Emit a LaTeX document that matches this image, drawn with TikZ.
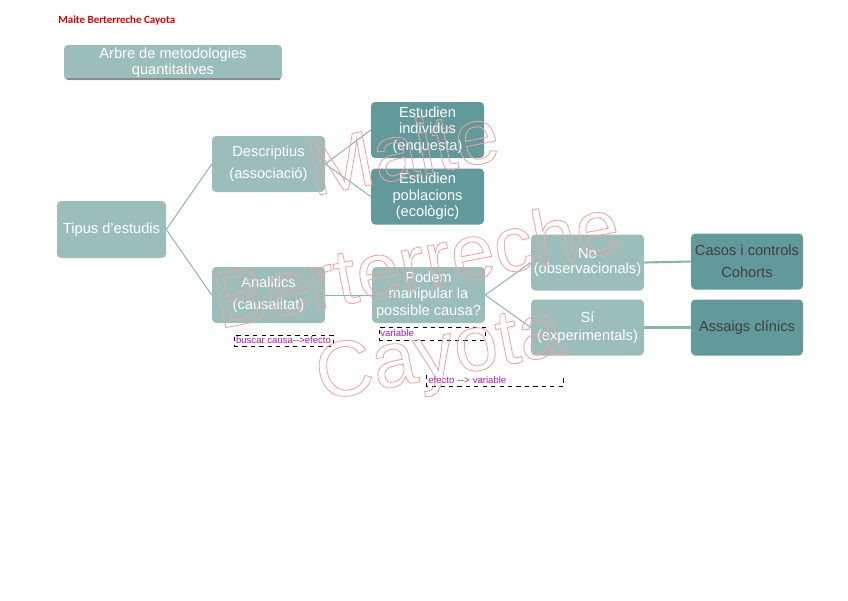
\documentclass[tikz,border=0pt]{standalone}
\usepackage{fontspec}
\setmainfont{Liberation Sans}
\newfontfamily\signfont{Carlito}
\usetikzlibrary{positioning}

\definecolor{lightteal}{HTML}{9CBEBB}
\definecolor{darkteal}{HTML}{62999A}
\definecolor{linkteal}{HTML}{8DB3B0}
\definecolor{notepink}{HTML}{A81EA8}
\definecolor{wmred}{HTML}{EFA3A3}

% one pixel of the sheet
\def\u{0.025cm}

\tikzset{
  box/.style={fill=lightteal, rounded corners=3pt, text=white, align=center,
    minimum width=113*\u, minimum height=56*\u, inner sep=1pt,
    font=\fontsize{10.4}{11.6}\selectfont},
  darkbox/.style={box, fill=darkteal},
  greybox/.style={darkbox, text=black!75},
  airy/.style={font=\fontsize{10.4}{15.5}\selectfont},
  link/.style={draw=linkteal, line width=0.7pt},
  boldlink/.style={draw=linkteal, line width=1.5pt},
  note/.style={text=notepink, font=\fontsize{6.8}{7}\selectfont, inner sep=1pt},
  wmark/.style={text=wmred, font=\fontsize{56}{56}\selectfont, rotate=11, inner sep=0pt}
}

\begin{document}
\begin{tikzpicture}[x=\u, y=-\u]

% Sheet
\useasboundingbox (0,0) rectangle (848,600);

% Signature
\node[anchor=west, text=red!85!black, inner sep=0pt,
  font=\signfont\bfseries\fontsize{7.8}{9}\selectfont] (sign) at (58,21) {Maite Berterreche Cayota};

% Title
\node[box, minimum width=218*\u, minimum height=35*\u] (title) at (173,62.5)
  {Arbre de metodologies\\quantitatives};
\draw[black!45, line width=1pt] (67,79) -- (280,79);

% Tree
\node[box, minimum width=109*\u, minimum height=57*\u] (tipus) at (111.5,229.5) {Tipus d'estudis};
\node[box, airy] (desc) at (268.5,164) {Descriptius\\(associació)};
\node[box, airy] (anal) at (268.5,295) {Analitics\\(causalitat)};
\node[darkbox] (indiv) at (427.5,130) {Estudien\\individus\\(enquesta)};
\node[darkbox] (pobl) at (427.5,196.5) {Estudien\\poblacions\\(ecològic)};
\node[box] (podem) at (428.5,295) {Podem\\manipular la\\possible causa?};
\node[box, font=\fontsize{10.4}{11}\selectfont] (no) at (587.5,262.5) {No\\(observacionals)};
\node[box, font=\fontsize{10.4}{12.8}\selectfont] (si) at (587.5,327.5) {Sí\\(experimentals)};
\node[greybox, airy, minimum width=112*\u] (casos) at (747,261.5) {Casos i controls\\Cohorts};
\node[greybox, minimum width=112*\u] (assaigs) at (747,327.5) {Assaigs clínics};

% Links
\draw[link] (tipus.east) -- (desc.west);
\draw[link] (tipus.east) -- (anal.west);
\draw[link] (desc.east) -- (indiv.west);
\draw[link] (desc.east) -- (pobl.west);
\draw[link] (anal.east) -- (podem.west);
\draw[link] (podem.east) -- (no.west);
\draw[link] (podem.east) -- (si.west);
\draw[boldlink] (no.east) -- (casos.west);
\draw[boldlink] (si.east) -- (assaigs.west);

% Notes
\node[note, draw=black, dashed, minimum width=99*\u, minimum height=11*\u] (buscar) at (283.5,340.5)
  {buscar causa-{}->efecto};
\node[note, draw=black, dashed, minimum height=13*\u, text width=106*\u-2pt, align=left] (vari) at (432,333.5)
  {variable};
\node[note, minimum height=11*\u, text width=136*\u-2pt, align=left] (efecto) at (495,380.5)
  {efecto -{}-> variable};
\draw[dashed] (efecto.north west) |- (efecto.south east) -- (efecto.north east);

% Watermark
\special{pdf:literal direct 1 Tr 0.6 w}
\node[wmark] (wm1) at (403,150) {Maite};
\node[wmark] (wm2) at (416,262) {Berterreche};
\node[wmark] (wm3) at (440,358) {Cayota};
\special{pdf:literal direct 0 Tr}

\end{tikzpicture}
\end{document}
